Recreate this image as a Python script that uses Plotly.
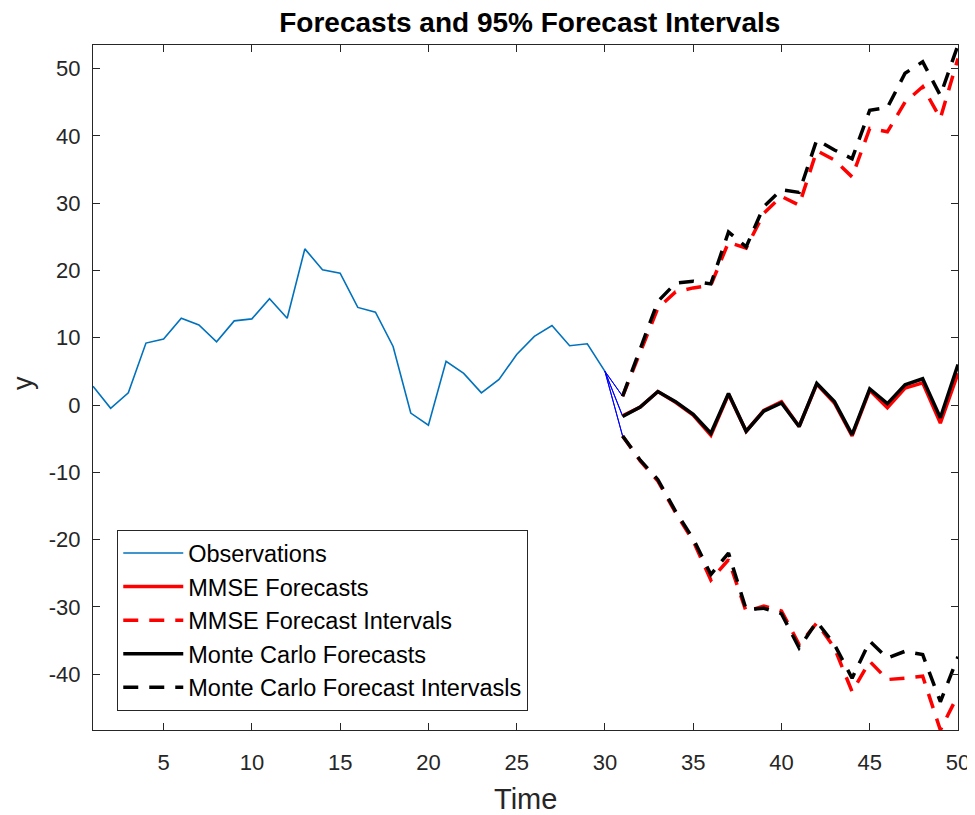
import plotly.graph_objects as go

# ---------------- data ----------------
obs_t = list(range(1, 31))
observations = [2.8, -0.5, 1.8, 9.2, 9.8, 12.9, 11.9, 9.4, 12.5, 12.8,
                15.8, 12.9, 23.2, 20.1, 19.6, 14.5, 13.8, 8.7, -1.2, -3.0,
                6.5, 4.7, 1.8, 3.8, 7.5, 10.2, 11.8, 8.8, 9.1, 5.0]

fc_t = list(range(31, 51))
mmse_forecast = [-1.6, -0.3, 2.0, 0.4, -1.5, -4.5, 1.6, -3.9, -0.8, 0.5,
                 -3.2, 3.1, 0.3, -4.6, 2.2, -0.4, 2.5, 3.3, -2.7, 4.7]
mc_forecast = [-1.7, -0.3, 2.0, 0.5, -1.4, -4.2, 1.7, -3.9, -0.9, 0.3,
               -3.2, 3.2, 0.5, -4.4, 2.4, 0.2, 3.0, 3.9, -1.9, 6.0]

mmse_upper = [1.3, 8.0, 14.4, 16.8, 17.4, 17.8, 24.2, 23.3, 28.5, 31.0,
              29.7, 37.8, 36.4, 33.9, 41.1, 40.6, 45.0, 47.3, 42.6, 51.5]
mc_upper = [1.3, 8.2, 15.4, 18.1, 18.4, 18.0, 25.7, 23.5, 29.5, 32.0,
            31.6, 39.4, 37.9, 36.6, 43.8, 44.2, 49.3, 51.0, 46.0, 53.5]

mmse_lower = [-4.6, -8.3, -11.3, -16.0, -20.2, -26.0, -23.0, -30.7, -29.9, -30.6,
              -35.6, -32.4, -36.1, -42.6, -38.1, -40.8, -40.6, -40.3, -48.3, -43.1]
mc_lower = [-4.6, -8.2, -11.1, -15.8, -19.9, -25.2, -22.0, -30.4, -30.2, -31.0,
            -36.1, -32.2, -35.6, -40.6, -35.1, -37.6, -36.6, -37.1, -44.1, -37.4]

x_ticks = [5, 10, 15, 20, 25, 30, 35, 40, 45, 50]
y_ticks = [-40, -30, -20, -10, 0, 10, 20, 30, 40, 50]
y_tick_labels = [str(v) for v in y_ticks]

# ---------------- figure ----------------
AX = "#262626"
FONT = "Liberation Sans, Arial, Helvetica, sans-serif"
DASH = "15px,11px"
W_THICK = 3.5

fig = go.Figure()

fig.add_trace(go.Scatter(x=obs_t, y=observations, mode="lines",
                         line=dict(color="#0072BD", width=1.6),
                         name="Observations", legendgroup="g1"))

# thin blue connectors from last observation to first forecast values
cx, cy = [], []
for s in (mmse_upper, mmse_forecast, mmse_lower, mc_upper, mc_forecast, mc_lower):
    cx += [obs_t[-1], fc_t[0], None]
    cy += [observations[-1], s[0], None]
fig.add_trace(go.Scatter(x=cx, y=cy, mode="lines", line=dict(color="#0000FF", width=1),
                         showlegend=False, hoverinfo="skip"))

fig.add_trace(go.Scatter(x=fc_t, y=mmse_forecast, mode="lines",
                         line=dict(color="#FF0000", width=W_THICK),
                         name="MMSE Forecasts", legendgroup="g2"))
fig.add_trace(go.Scatter(x=fc_t, y=mmse_upper, mode="lines",
                         line=dict(color="#FF0000", width=W_THICK, dash=DASH),
                         name="MMSE Forecast Intervals", legendgroup="g3"))
fig.add_trace(go.Scatter(x=fc_t, y=mmse_lower, mode="lines",
                         line=dict(color="#FF0000", width=W_THICK, dash=DASH),
                         name="MMSE Forecast Intervals", legendgroup="g3", showlegend=False))
fig.add_trace(go.Scatter(x=fc_t, y=mc_forecast, mode="lines",
                         line=dict(color="#000000", width=W_THICK),
                         name="Monte Carlo Forecasts", legendgroup="g4"))
fig.add_trace(go.Scatter(x=fc_t, y=mc_upper, mode="lines",
                         line=dict(color="#000000", width=W_THICK, dash=DASH),
                         name="Monte Carlo Forecast Intervasls", legendgroup="g5"))
fig.add_trace(go.Scatter(x=fc_t, y=mc_lower, mode="lines",
                         line=dict(color="#000000", width=W_THICK, dash=DASH),
                         name="Monte Carlo Forecast Intervasls", legendgroup="g5", showlegend=False))

all_y = observations + mmse_upper + mc_upper + mmse_lower + mc_lower
y_min, y_max = min(all_y), max(all_y)

fig.update_layout(
    width=967, height=807,
    margin=dict(l=85, r=17, t=37, b=85, autoexpand=False),
    paper_bgcolor="white", plot_bgcolor="white",
    font=dict(family=FONT, color=AX, size=22),
    title=dict(text="<b>Forecasts and 95% Forecast Intervals</b>",
               xref="paper", x=0.505, xanchor="center",
               yref="container", y=1.0, yanchor="top", pad=dict(t=4),
               font=dict(family=FONT, size=28, color="#000000")),
    xaxis=dict(range=[obs_t[0], fc_t[-1]], tickmode="array", tickvals=x_ticks,
               ticks="inside", ticklen=7, tickcolor=AX, showline=True, linecolor=AX,
               linewidth=1.3, mirror="ticks", showgrid=False, zeroline=False,
               automargin=False, ticklabeloverflow="allow",
               ticklabelstandoff=12, tickfont=dict(size=22, color=AX)),
    yaxis=dict(range=[y_min, y_max], tickmode="array", tickvals=y_ticks,
               ticktext=y_tick_labels,
               ticks="inside", ticklen=7, tickcolor=AX, showline=True, linecolor=AX,
               linewidth=1.3, mirror="ticks", showgrid=False, zeroline=False,
               automargin=False, ticklabeloverflow="allow",
               ticklabelstandoff=7, tickfont=dict(size=22, color=AX)),
    legend=dict(x=0.0277, y=0.0278, xanchor="left", yanchor="bottom",
                bgcolor="white", bordercolor=AX, borderwidth=1.3,
                font=dict(family=FONT, size=23.5, color="#000000"),
                traceorder="grouped", tracegroupgap=0, itemwidth=60),
    showlegend=True,
    annotations=[
        dict(text="Time", xref="paper", yref="paper", x=0.5, y=-0.1007,
             xanchor="center", yanchor="middle", showarrow=False,
             font=dict(family=FONT, size=29, color=AX)),
        dict(text="y", xref="paper", yref="paper", x=-0.0809, y=0.5066,
             xanchor="center", yanchor="middle", showarrow=False, textangle=-90,
             font=dict(family=FONT, size=27, color=AX)),
    ],
)

fig.write_html("out.html")
